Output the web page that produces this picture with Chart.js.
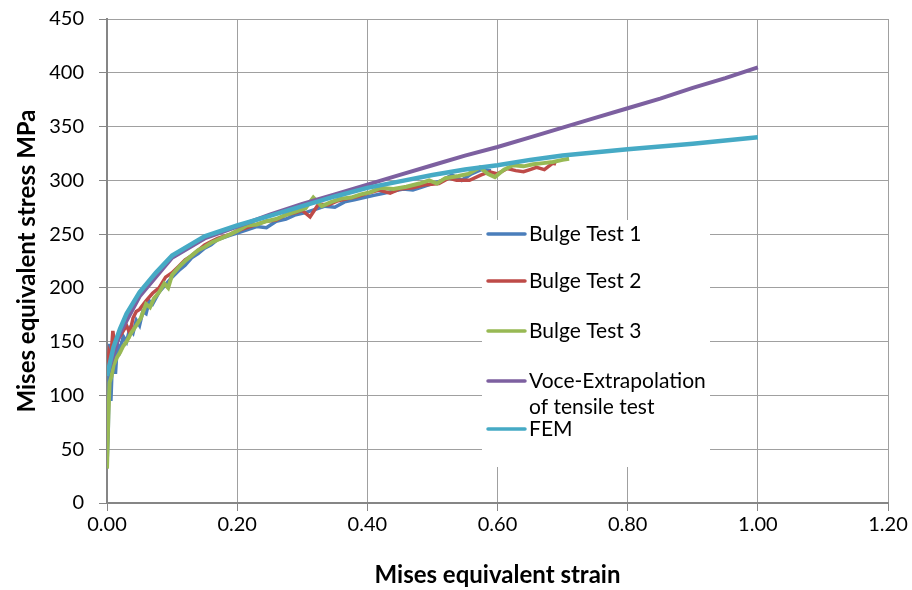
<!DOCTYPE html>
<html>
<head>
<meta charset="utf-8">
<script src="https://cdn.jsdelivr.net/npm/chart.js@4"></script>
<style>
  html, body { margin: 0; padding: 0; background: #fff; }
  canvas { display: block; }
</style>
</head>
<body>
<canvas id="chart-strain" width="912" height="590"></canvas>
<script>
// values
var strain1 = [0.000, 0.002, 0.004, 0.006, 0.008, 0.010, 0.013, 0.016, 0.020, 0.025, 0.030, 0.035, 0.040, 0.045, 0.050, 0.055, 0.060, 0.065, 0.070, 0.080, 0.090, 0.100, 0.110, 0.120, 0.130, 0.140, 0.150, 0.160, 0.170, 0.180, 0.190, 0.200, 0.215, 0.230, 0.245, 0.260, 0.275, 0.290, 0.305, 0.320, 0.335, 0.350, 0.365, 0.380, 0.395, 0.410, 0.425, 0.440, 0.455, 0.470, 0.485, 0.500, 0.515, 0.530, 0.545, 0.560, 0.575, 0.590];
var stress1 = [35, 70, 148, 95, 128, 140, 120, 148, 142, 155, 150, 162, 158, 170, 165, 178, 176, 188, 185, 196, 203, 210, 216, 221, 228, 232, 237, 240, 245, 247, 249, 251, 254, 257, 256, 262, 264, 268, 270, 273, 276, 275, 280, 282, 284, 286, 288, 290, 292, 291, 294, 297, 300, 305, 300, 306, 310, 309];

var strain2 = [0.000, 0.003, 0.006, 0.009, 0.012, 0.015, 0.020, 0.025, 0.030, 0.035, 0.040, 0.045, 0.050, 0.060, 0.070, 0.080, 0.090, 0.100, 0.110, 0.120, 0.130, 0.140, 0.150, 0.160, 0.170, 0.180, 0.190, 0.200, 0.215, 0.230, 0.245, 0.260, 0.275, 0.290, 0.300, 0.312, 0.325, 0.340, 0.355, 0.370, 0.385, 0.400, 0.418, 0.435, 0.450, 0.470, 0.490, 0.510, 0.525, 0.537, 0.557, 0.575, 0.588, 0.600, 0.615, 0.628, 0.640, 0.650, 0.660, 0.672, 0.685, 0.690];
var stress2 = [120, 140, 135, 160, 145, 150, 155, 160, 165, 158, 172, 178, 180, 188, 195, 200, 210, 214, 220, 226, 230, 235, 240, 243, 246, 248, 250, 253, 256, 259, 262, 263, 268, 270, 272, 266, 278, 277, 281, 283, 285, 288, 291, 288, 292, 293, 296, 297, 302, 300, 300, 305, 308, 306, 311, 309, 308, 310, 312, 310, 316, 315];

var strain3 = [0.000, 0.002, 0.004, 0.007, 0.010, 0.015, 0.020, 0.025, 0.030, 0.037, 0.045, 0.052, 0.060, 0.066, 0.072, 0.080, 0.088, 0.094, 0.100, 0.110, 0.120, 0.130, 0.140, 0.150, 0.160, 0.175, 0.190, 0.200, 0.215, 0.230, 0.245, 0.260, 0.275, 0.290, 0.305, 0.317, 0.330, 0.345, 0.360, 0.375, 0.390, 0.405, 0.420, 0.440, 0.460, 0.480, 0.495, 0.507, 0.520, 0.540, 0.555, 0.573, 0.585, 0.596, 0.610, 0.624, 0.640, 0.655, 0.670, 0.685, 0.700, 0.710];
var stress3 = [32, 80, 112, 118, 128, 135, 140, 146, 150, 158, 165, 172, 185, 182, 190, 196, 204, 200, 212, 219, 225, 230, 235, 238, 242, 246, 250, 253, 258, 259, 262, 264, 268, 271, 274, 284, 276, 280, 283, 284, 287, 289, 293, 292, 294, 297, 300, 297, 302, 304, 306, 312, 306, 303, 310, 314, 313, 315, 316, 317, 319, 320];

var strainVoce = [0.00, 0.02, 0.05, 0.10, 0.15, 0.20, 0.25, 0.30, 0.35, 0.40, 0.45, 0.50, 0.55, 0.60, 0.65, 0.70, 0.75, 0.80, 0.85, 0.90, 0.95, 1.00];
var stressVoce = [118, 158, 192, 228, 246, 257, 268, 278, 287, 296, 305, 314, 323, 331, 340, 349, 358, 367, 376, 386, 395, 405];

var strainFem = [0.00, 0.01, 0.02, 0.03, 0.05, 0.075, 0.10, 0.15, 0.20, 0.25, 0.30, 0.35, 0.40, 0.45, 0.50, 0.55, 0.60, 0.65, 0.70, 0.80, 0.90, 1.00];
var stressFem = [118, 145, 162, 176, 196, 214, 230, 248, 258, 267, 276, 285, 293, 299, 305, 310, 314, 319, 323, 329, 334, 340];

var seriesNames = ["Bulge Test 1", "Bulge Test 2", "Bulge Test 3", ["Voce-Extrapolation", "of tensile test"], "FEM"];
var xTicks = [0, 0.2, 0.4, 0.6, 0.8, 1.0, 1.2];
var yTicks = [0, 50, 100, 150, 200, 250, 300, 350, 400, 450];

function pts(xs, ys) {
    return xs.map(function(x, i) { return { x: x, y: ys[i] }; });
}

var colors = ["#4a7ebb", "#be4b48", "#98b954", "#7d60a0", "#46aac5"];
var widths = [3.5, 3.5, 4, 4, 4.5];
var allData = [pts(strain1, stress1), pts(strain2, stress2), pts(strain3, stress3), pts(strainVoce, stressVoce), pts(strainFem, stressFem)];

var datasets = allData.map(function(d, i) {
    return {
        label: seriesNames[i],
        data: d,
        borderColor: colors[i],
        backgroundColor: colors[i],
        borderWidth: widths[i],
        pointRadius: 0,
        tension: 0,
        fill: false,
        order: 5 - i
    };
});

// legend drawn inside the plot, like the original
var boxLegend = {
    id: 'boxLegend',
    afterDatasetsDraw: function(chart) {
        var c = chart.ctx;
        c.save();
        c.fillStyle = '#fff';
        c.fillRect(482, 220, 228, 247);
        var rowY = [234, 281, 331, 381, 429];
        c.font = '21px Lato';
        c.textBaseline = 'middle';
        c.textAlign = 'left';
        chart.data.datasets.forEach(function(ds, i) {
            var y = rowY[i];
            c.strokeStyle = ds.borderColor;
            c.lineWidth = 3.5;
            c.lineCap = 'round';
            c.beginPath();
            c.moveTo(488, y);
            c.lineTo(525, y);
            c.stroke();
            c.fillStyle = '#000';
            var lines = [].concat(ds.label);
            lines.forEach(function(t, k) {
                c.fillText(t, 529, y + k * 26);
            });
        });
        c.restore();
    }
};

var ctx = document.getElementById('chart-strain');
var myChart = new Chart(ctx, {
    type: 'line',
    data: { datasets: datasets },
    options: {
        responsive: false,
        animation: false,
        maintainAspectRatio: false,
        layout: { padding: { left: 0, right: 24, top: 19, bottom: 0 } },
        plugins: {
            legend: { display: false },
            tooltip: { enabled: false }
        },
        scales: {
            x: {
                type: 'linear',
                min: 0,
                max: 1.2,
                afterFit: function(s) { s.height = 87; },
                afterBuildTicks: function(s) { s.ticks = xTicks.map(function(v) { return { value: v }; }); },
                ticks: {
                    color: '#000',
                    font: { family: 'Lato', size: 20 },
                    padding: 2,
                    maxRotation: 0,
                    callback: function(v) { return v.toFixed(2); }
                },
                grid: { color: '#a0a0a0', lineWidth: 1, tickLength: 8, tickColor: '#868686' },
                border: { color: '#868686', width: 2 },
                title: {
                    display: true,
                    text: 'Mises equivalent strain',
                    color: '#000',
                    font: { family: 'Lato', size: 24, weight: 'bold' },
                    padding: { top: 0, bottom: 0 }
                }
            },
            y: {
                min: 0,
                max: 450,
                afterFit: function(s) {
                    s.width = 107;
                    s.paddingTop = 0;
                    s.paddingBottom = 0;
                },
                afterBuildTicks: function(s) { s.ticks = yTicks.map(function(v) { return { value: v }; }); },
                ticks: {
                    color: '#000',
                    font: { family: 'Lato', size: 20 },
                    padding: 15
                },
                grid: { color: '#a0a0a0', lineWidth: 1, tickLength: 8, tickColor: '#868686' },
                border: { color: '#868686', width: 2 },
                title: {
                    display: true,
                    text: 'Mises equivalent stress MPa',
                    color: '#000',
                    font: { family: 'Lato', size: 24, weight: 'bold' },
                    padding: { top: 13, bottom: 0 }
                }
            }
        }
    },
    plugins: [boxLegend]
});
</script>
</body>
</html>
